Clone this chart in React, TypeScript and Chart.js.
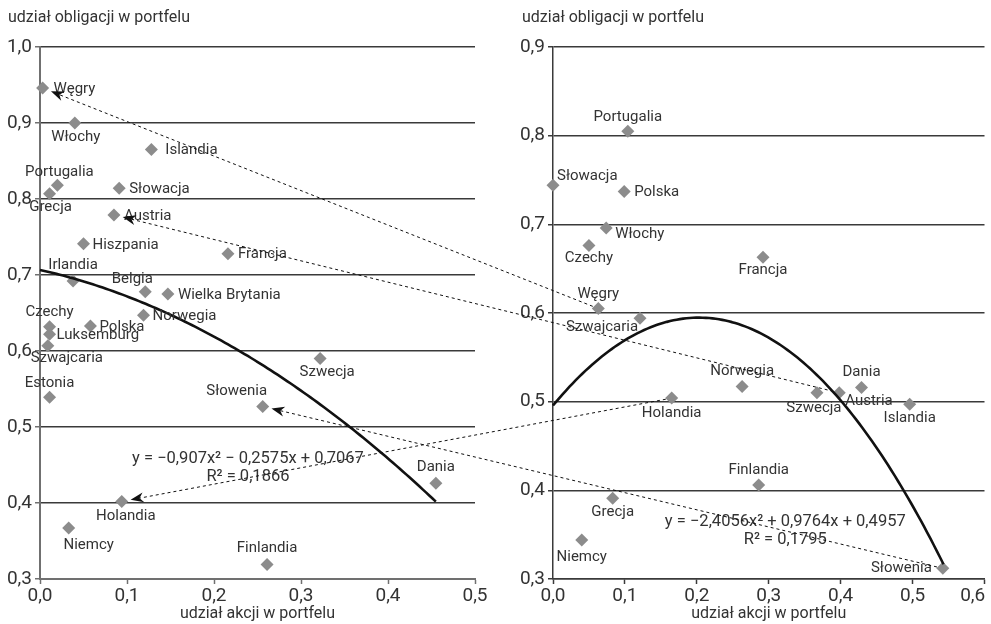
import { useEffect, useRef } from 'react';
import { Chart, registerables } from 'chart.js';

Chart.register(...registerables);

const FONT = 'Roboto, "Noto Sans", sans-serif';
const TEXT = '#333333';

// ---------- left panel ----------
const leftCountries = ['Węgry', 'Włochy', 'Islandia', 'Portugalia', 'Grecja', 'Słowacja', 'Austria', 'Hiszpania', 'Francja', 'Irlandia', 'Belgia', 'Wielka Brytania', 'Norwegia', 'Czechy', 'Polska', 'Luksemburg', 'Szwajcaria', 'Estonia', 'Szwecja', 'Słowenia', 'Dania', 'Holandia', 'Niemcy', 'Finlandia'];
const leftStocks = [0.003, 0.040, 0.128, 0.020, 0.011, 0.091, 0.085, 0.050, 0.216, 0.038, 0.121, 0.147, 0.119, 0.011, 0.058, 0.011, 0.009, 0.011, 0.322, 0.256, 0.455, 0.094, 0.033, 0.261];
const leftBonds = [0.946, 0.900, 0.865, 0.818, 0.807, 0.814, 0.779, 0.741, 0.728, 0.692, 0.678, 0.675, 0.647, 0.632, 0.633, 0.622, 0.607, 0.539, 0.590, 0.527, 0.426, 0.402, 0.367, 0.319];
const leftXTicks = [0, 0.1, 0.2, 0.3, 0.4, 0.5];
const leftYTicks = [0.3, 0.4, 0.5, 0.6, 0.7, 0.8, 0.9, 1.0];
const leftFit = [-0.907, -0.2575, 0.7067];
const leftFitRange = [0, 0.455];
const leftEquation = ['y = −0,907x² − 0,2575x + 0,7067', 'R² = 0,1866'];

// ---------- right panel ----------
const rightCountries = ['Portugalia', 'Słowacja', 'Polska', 'Włochy', 'Czechy', 'Francja', 'Węgry', 'Szwajcaria', 'Holandia', 'Norwegia', 'Szwecja', 'Austria', 'Dania', 'Islandia', 'Finlandia', 'Grecja', 'Niemcy', 'Słowenia'];
const rightStocks = [0.104, 0.000, 0.099, 0.074, 0.050, 0.292, 0.063, 0.121, 0.165, 0.263, 0.367, 0.398, 0.429, 0.496, 0.286, 0.083, 0.040, 0.542];
const rightBonds = [0.805, 0.744, 0.737, 0.696, 0.676, 0.663, 0.605, 0.594, 0.504, 0.517, 0.510, 0.510, 0.516, 0.497, 0.406, 0.391, 0.344, 0.312];
const rightXTicks = [0, 0.1, 0.2, 0.3, 0.4, 0.5, 0.6];
const rightYTicks = [0.3, 0.4, 0.5, 0.6, 0.7, 0.8, 0.9];
const rightFit = [-2.4056, 0.9764, 0.4957];
const rightFitRange = [0, 0.543];
const rightEquation = ['y = −2,4056x² + 0,9764x + 0,4957', 'R² = 0,1795'];

// countries whose move is shown by an arrow (right panel -> left panel)
const arrowCountries = ['Węgry', 'Austria', 'Holandia', 'Słowenia'];

const yTitle = 'udział obligacji w portfelu';
const xTitle = 'udział akcji w portfelu';

// ---------- label styling (offsets in px relative to the marker) ----------
type LabelStyle = [number, number, CanvasTextAlign];
const leftLabelStyle: LabelStyle[] = [
  [11, 1, 'left'], [1, 14, 'center'], [14, 1, 'left'], [2, -13, 'center'], [1, 14, 'center'],
  [10, 1, 'left'], [10, 1, 'left'], [9, 1, 'left'], [10, 1, 'left'], [0, -16, 'center'],
  [-13, -12, 'center'], [10, 1, 'left'], [9, 1, 'left'], [0, -14, 'center'], [9, 1, 'left'],
  [7, 1, 'left'], [19, 13, 'center'], [0, -14, 'center'], [7, 14, 'center'], [-26, -15, 'center'],
  [0, -16, 'center'], [4, 15, 'center'], [20, 17, 'center'], [0, -16, 'center'],
];
const rightLabelStyle: LabelStyle[] = [
  [0, -14, 'center'], [4, -9, 'left'], [10, 1, 'left'], [9, 6, 'left'], [0, 13, 'center'],
  [0, 13, 'center'], [0, -14, 'center'], [-38, 9, 'center'], [0, 15, 'center'], [0, -15, 'center'],
  [-3, 15, 'center'], [6, 8, 'left'], [0, -15, 'center'], [0, 14, 'center'], [0, -15, 'center'],
  [0, 14, 'center'], [0, 17, 'center'], [-11, 0, 'right'],
];

const fmt = (v: number) => v.toFixed(1).replace('.', ',');

interface PanelCfg {
  countries: string[];
  stocks: number[];
  bonds: number[];
  xTicks: number[];
  yTicks: number[];
  fit: number[];
  fitRange: number[];
  equation: string[];
  eqPos: number[]; // [x, y1, y2] in data units
  labelStyle: LabelStyle[];
  yAxisWidth: number;
  padRight: number;
  axisColor: string;
  axisWidth: number;
  shiftLastX: boolean;
  titleX: number;
}

function buildChart(canvas: HTMLCanvasElement, p: PanelCfg) {
  const xMin = p.xTicks[0];
  const xMax = p.xTicks[p.xTicks.length - 1];
  const yMin = p.yTicks[0];
  const yMax = p.yTicks[p.yTicks.length - 1];

  const extras = {
    id: 'extras',
    afterDatasetsDraw(chart: any) {
      const ctx = chart.ctx as CanvasRenderingContext2D;
      const xs = chart.scales.x;
      const ys = chart.scales.y;
      // trend line
      ctx.save();
      ctx.beginPath();
      const n = 120;
      for (let i = 0; i <= n; i++) {
        const xv = p.fitRange[0] + ((p.fitRange[1] - p.fitRange[0]) * i) / n;
        const yv = p.fit[0] * xv * xv + p.fit[1] * xv + p.fit[2];
        const px = xs.getPixelForValue(xv);
        const py = ys.getPixelForValue(yv);
        if (i === 0) ctx.moveTo(px, py);
        else ctx.lineTo(px, py);
      }
      ctx.strokeStyle = '#111111';
      ctx.lineWidth = 2.6;
      ctx.lineJoin = 'round';
      ctx.stroke();
      ctx.restore();

      // data labels
      ctx.save();
      ctx.font = `15px ${FONT}`;
      ctx.fillStyle = TEXT;
      ctx.textBaseline = 'middle';
      p.countries.forEach((name, i) => {
        const [dx, dy, align] = p.labelStyle[i];
        const px = xs.getPixelForValue(p.stocks[i]);
        const py = ys.getPixelForValue(p.bonds[i]);
        ctx.textAlign = align;
        ctx.fillText(name, px + dx, py + dy);
      });
      // equation
      ctx.font = `16.5px ${FONT}`;
      ctx.textAlign = 'center';
      const ex = xs.getPixelForValue(p.eqPos[0]);
      ctx.fillText(p.equation[0], ex, ys.getPixelForValue(p.eqPos[1]));
      ctx.fillText(p.equation[1], ex, ys.getPixelForValue(p.eqPos[2]));
      // y axis title
      ctx.font = `16px ${FONT}`;
      ctx.textAlign = 'left';
      ctx.fillText(yTitle, p.titleX, 18);
      ctx.restore();
    },
  };

  return new Chart(canvas, {
    type: 'scatter',
    data: {
      datasets: [
        {
          data: p.stocks.map((x, i) => ({ x, y: p.bonds[i] })),
          pointStyle: 'rectRot',
          pointRadius: 6.5,
          pointHoverRadius: 6.5,
          backgroundColor: '#8c8c8c',
          borderWidth: 0,
          clip: false,
        },
      ],
    },
    options: {
      responsive: false,
      animation: false,
      devicePixelRatio: 1,
      events: [],
      layout: { padding: { top: 47, right: p.padRight, left: 0, bottom: 0 } },
      plugins: { legend: { display: false }, tooltip: { enabled: false } },
      scales: {
        x: {
          type: 'linear',
          min: xMin,
          max: xMax,
          afterBuildTicks: (s: any) => {
            s.ticks = p.xTicks.map((v) => ({ value: v }));
          },
          afterFit: (s: any) => {
            s.height = 45;
            s.paddingRight = 0;
            s.paddingLeft = 0;
          },
          ticks: {
            autoSkip: false,
            maxRotation: 0,
            padding: 1,
            color: TEXT,
            font: { family: FONT, size: 19 },
            callback: (v: any) => (p.shiftLastX && Number(v) === xMax ? fmt(Number(v)) + '     ' : fmt(Number(v))),
          },
          grid: { drawOnChartArea: false, drawTicks: true, tickLength: 5, tickColor: p.axisColor, tickWidth: 1.5 },
          border: { color: p.axisColor, width: p.axisWidth },
          title: { display: true, text: xTitle, color: TEXT, font: { family: FONT, size: 16 }, padding: { top: 0, bottom: 0 } },
        },
        y: {
          type: 'linear',
          min: yMin,
          max: yMax,
          afterBuildTicks: (s: any) => {
            s.ticks = p.yTicks.map((v) => ({ value: v }));
          },
          afterFit: (s: any) => {
            s.width = p.yAxisWidth;
            s.paddingTop = 0;
            s.paddingBottom = 0;
          },
          ticks: {
            autoSkip: false,
            padding: 3,
            color: TEXT,
            font: { family: FONT, size: 19 },
            callback: (v: any) => fmt(Number(v)),
          },
          grid: { color: '#3a3a3a', lineWidth: 1.5, drawTicks: true, tickLength: 5, tickColor: p.axisColor, tickWidth: 1.5 },
          border: { color: p.axisColor, width: p.axisWidth },
        },
      },
    },
    plugins: [extras],
  } as any);
}

export default function App() {
  const leftRef = useRef<HTMLCanvasElement>(null);
  const rightRef = useRef<HTMLCanvasElement>(null);
  const overlayRef = useRef<HTMLCanvasElement>(null);

  const LEFT_W = 495;
  const RIGHT_X = 495;
  const RIGHT_W = 496;
  const H = 624;

  useEffect(() => {
    if (!leftRef.current || !rightRef.current || !overlayRef.current) return;
    const left = buildChart(leftRef.current, {
      countries: leftCountries,
      stocks: leftStocks,
      bonds: leftBonds,
      xTicks: leftXTicks,
      yTicks: leftYTicks,
      fit: leftFit,
      fitRange: leftFitRange,
      equation: leftEquation,
      eqPos: [0.239, 0.458, 0.434],
      labelStyle: leftLabelStyle,
      yAxisWidth: 40,
      padRight: 20,
      axisColor: '#707070',
      axisWidth: 2,
      shiftLastX: false,
      titleX: 8,
    });
    const right = buildChart(rightRef.current, {
      countries: rightCountries,
      stocks: rightStocks,
      bonds: rightBonds,
      xTicks: rightXTicks,
      yTicks: rightYTicks,
      fit: rightFit,
      fitRange: rightFitRange,
      equation: rightEquation,
      eqPos: [0.323, 0.3645, 0.344],
      labelStyle: rightLabelStyle,
      yAxisWidth: 58,
      padRight: 3,
      axisColor: '#3a3a3a',
      axisWidth: 1.5,
      shiftLastX: true,
      titleX: 27,
    });

    // arrows across both panels
    const oc = overlayRef.current;
    const ctx = oc.getContext('2d')!;
    ctx.clearRect(0, 0, oc.width, oc.height);
    arrowCountries.forEach((name) => {
      const li = leftCountries.indexOf(name);
      const ri = rightCountries.indexOf(name);
      if (li < 0 || ri < 0) return;
      const lx = left.scales.x.getPixelForValue(leftStocks[li]);
      const ly = left.scales.y.getPixelForValue(leftBonds[li]);
      const rx = RIGHT_X + right.scales.x.getPixelForValue(rightStocks[ri]);
      const ry = right.scales.y.getPixelForValue(rightBonds[ri]);
      const dx = lx - rx;
      const dy = ly - ry;
      const len = Math.hypot(dx, dy);
      const ux = dx / len;
      const uy = dy / len;
      const sx = rx + ux * 6;
      const sy = ry + uy * 6;
      const tx = lx - ux * 9;
      const ty = ly - uy * 9;
      const L = 13;
      const W = 5;
      const bx = tx - ux * L * 0.7;
      const by = ty - uy * L * 0.7;
      ctx.save();
      ctx.strokeStyle = '#111111';
      ctx.lineWidth = 1;
      ctx.setLineDash([3, 3]);
      ctx.beginPath();
      ctx.moveTo(sx, sy);
      ctx.lineTo(bx, by);
      ctx.stroke();
      ctx.setLineDash([]);
      ctx.fillStyle = '#111111';
      ctx.beginPath();
      ctx.moveTo(tx, ty);
      ctx.lineTo(tx - ux * L - uy * W, ty - uy * L + ux * W);
      ctx.lineTo(bx, by);
      ctx.lineTo(tx - ux * L + uy * W, ty - uy * L - ux * W);
      ctx.closePath();
      ctx.fill();
      ctx.restore();
    });

    return () => {
      left.destroy();
      right.destroy();
    };
  }, []);

  return (
    <div style={{ position: 'fixed', left: 0, top: 0, width: 991, height: H, overflow: 'hidden', background: '#fff' }}>
      <canvas ref={leftRef} width={LEFT_W} height={H} style={{ position: 'absolute', left: 0, top: 0, width: LEFT_W, height: H }} />
      <canvas ref={rightRef} width={RIGHT_W} height={H} style={{ position: 'absolute', left: RIGHT_X, top: 0, width: RIGHT_W, height: H }} />
      <canvas ref={overlayRef} width={991} height={H} style={{ position: 'absolute', left: 0, top: 0, width: 991, height: H, pointerEvents: 'none' }} />
    </div>
  );
}
